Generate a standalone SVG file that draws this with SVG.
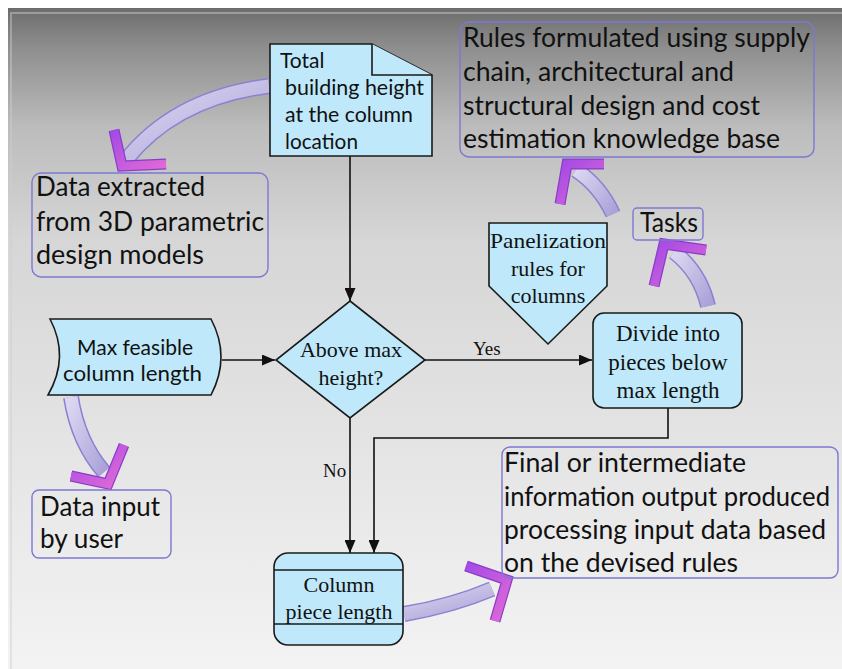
<svg xmlns="http://www.w3.org/2000/svg" width="842" height="669" viewBox="0 0 842 669">
<defs>
<linearGradient id="bg" x1="0" y1="0" x2="0" y2="1">
<stop offset="0" stop-color="#6c6c6c"/>
<stop offset="0.06" stop-color="#8e8e8e"/>
<stop offset="0.18" stop-color="#bcbcbc"/>
<stop offset="0.35" stop-color="#d6d6d6"/>
<stop offset="0.7" stop-color="#e6e6e6"/>
<stop offset="1" stop-color="#f3f3f3"/>
</linearGradient>
<linearGradient id="body" x1="0" y1="0" x2="1" y2="1">
<stop offset="0" stop-color="#dcd8f2"/>
<stop offset="1" stop-color="#aaa2d8"/>
</linearGradient>
<linearGradient id="chev" x1="0" y1="0" x2="1" y2="1">
<stop offset="0" stop-color="#a44ae6"/>
<stop offset="1" stop-color="#e06ad6"/>
</linearGradient>
<marker id="ah" markerUnits="userSpaceOnUse" markerWidth="13" markerHeight="11" refX="13" refY="5.5" orient="auto">
<path d="M0,0 L13,5.5 L0,11 z" fill="#111"/>
</marker>
<style>
.shape{fill:#bfe9fb;stroke:#1a1a1a;stroke-width:1.6}
.note{fill:none;stroke:#7d78d2;stroke-width:1.4}
.conn{fill:none;stroke:#111;stroke-width:1.6}
.sans{font-family:Lato,"Open Sans","Liberation Sans",sans-serif;fill:#111}
.serif{font-family:"Liberation Serif","DejaVu Serif",serif;fill:#111}
.bo{fill:none;stroke:#8a82d0;stroke-width:16}
.bi{fill:none;stroke:url(#body);stroke-width:13}
.co{fill:none;stroke:#8a3cc8;stroke-width:11;stroke-linejoin:miter}
.ci{fill:none;stroke:url(#chev);stroke-width:8.5;stroke-linejoin:miter}
</style>
</defs>
<rect x="0" y="0" width="842" height="669" fill="#ffffff"/>
<rect x="8" y="8" width="834" height="661" fill="url(#bg)"/>
<line x1="12" y1="13" x2="842" y2="13" stroke="#9c9c9c" stroke-width="2"/>
<line x1="11" y1="12" x2="11" y2="669" stroke="#cfcfcf" stroke-width="1.5" opacity="0.6"/>

<g id="connectors">
<path class="conn" d="M350 156 V301" marker-end="url(#ah)"/>
<path class="conn" d="M222 360 H275" marker-end="url(#ah)"/>
<path class="conn" d="M425 360 H592" marker-end="url(#ah)"/>
<path class="conn" d="M350 418 V553" marker-end="url(#ah)"/>
<path class="conn" d="M668 408 V438 H374 V553" marker-end="url(#ah)"/>
<text class="serif" x="473" y="355" font-size="19">Yes</text>
<text class="serif" x="323" y="477" font-size="19">No</text>
</g>

<g id="arrow-doc-data">
<path class="bo" d="M269 86 Q175 98 126 160"/>
<path class="bi" d="M269 86 Q175 98 126 160"/>
<path class="co" d="M114 130 L122 166 L166 164"/>
<path class="ci" d="M114 130 L122 166 L166 164"/>
</g>
<g id="arrow-max-input">
<path class="bo" d="M71 397 Q78 442 104 472"/>
<path class="bi" d="M71 397 Q78 442 104 472"/>
<path class="co" d="M71 476 L108 484 L124 445"/>
<path class="ci" d="M71 476 L108 484 L124 445"/>
</g>
<g id="arrow-rules">
<path class="bo" d="M613 214 Q600 186 576 170"/>
<path class="bi" d="M613 214 Q600 186 576 170"/>
<path class="co" d="M560 204 L567 164 L604 164"/>
<path class="ci" d="M560 204 L567 164 L604 164"/>
</g>
<g id="arrow-tasks">
<path class="bo" d="M708 306 Q700 272 674 252"/>
<path class="bi" d="M708 306 Q700 272 674 252"/>
<path class="co" d="M654 286 L664 244 L706 250"/>
<path class="ci" d="M654 286 L664 244 L706 250"/>
</g>
<g id="arrow-column-final">
<path class="bo" d="M404 614 Q452 606 492 589"/>
<path class="bi" d="M404 614 Q452 606 492 589"/>
<path class="co" d="M466 566 L507 580 L495 621"/>
<path class="ci" d="M466 566 L507 580 L495 621"/>
</g>

<g id="total-height">
<polygon class="shape" points="270,44 372,44 432,75 432,156 270,156"/>
<path class="shape" d="M372 44 V75 H432" fill="none"/>
<g class="sans" font-size="21">
<text x="280" y="68">Total</text>
<text x="285" y="95" textLength="139" lengthAdjust="spacingAndGlyphs">building height</text>
<text x="285" y="122" textLength="128" lengthAdjust="spacingAndGlyphs">at the column</text>
<text x="285" y="149" textLength="73" lengthAdjust="spacingAndGlyphs">location</text>
</g>
</g>

<g id="rules-note">
<rect class="note" x="460" y="22" width="354" height="135" rx="9"/>
<g class="sans" font-size="27">
<text x="463" y="47" textLength="347" lengthAdjust="spacingAndGlyphs">Rules formulated using supply</text>
<text x="463" y="81" textLength="271" lengthAdjust="spacingAndGlyphs">chain, architectural and</text>
<text x="463" y="115" textLength="297" lengthAdjust="spacingAndGlyphs">structural design and cost</text>
<text x="463" y="148" textLength="317" lengthAdjust="spacingAndGlyphs">estimation knowledge base</text>
</g>
</g>

<g id="data-extracted">
<rect class="note" x="32" y="173" width="236" height="104" rx="9"/>
<g class="sans" font-size="27">
<text x="36" y="196" textLength="169" lengthAdjust="spacingAndGlyphs">Data extracted</text>
<text x="36" y="231" textLength="228" lengthAdjust="spacingAndGlyphs">from 3D parametric</text>
<text x="36" y="264" textLength="168" lengthAdjust="spacingAndGlyphs">design models</text>
</g>
</g>

<g id="max-length">
<path class="shape" d="M50 319 L211 319 Q231 357 211 395 L48 395 Q70 357 50 319 Z"/>
<g class="sans" font-size="22">
<text x="77" y="355" textLength="116" lengthAdjust="spacingAndGlyphs">Max feasible</text>
<text x="63" y="381" textLength="139" lengthAdjust="spacingAndGlyphs">column length</text>
</g>
</g>

<g id="data-input">
<rect class="note" x="32" y="490" width="139" height="68" rx="7"/>
<g class="sans" font-size="27">
<text x="40" y="516" textLength="120" lengthAdjust="spacingAndGlyphs">Data input</text>
<text x="40" y="548" textLength="83" lengthAdjust="spacingAndGlyphs">by user</text>
</g>
</g>

<g id="decision">
<polygon class="shape" points="350,301 425,360 350,418 276,360"/>
<g class="serif" font-size="22" text-anchor="middle">
<text x="351" y="357">Above max</text>
<text x="351" y="385">height?</text>
</g>
</g>

<g id="panelization">
<polygon class="shape" points="489,223 607,223 607,286 548,344 489,286"/>
<g class="serif" font-size="22" text-anchor="middle">
<text x="548" y="248" textLength="116" lengthAdjust="spacingAndGlyphs">Panelization</text>
<text x="548" y="276">rules for</text>
<text x="548" y="303">columns</text>
</g>
</g>

<g id="tasks">
<rect class="note" x="633" y="208" width="70" height="32" rx="4"/>
<text class="sans" x="640" y="232" font-size="26" textLength="58" lengthAdjust="spacingAndGlyphs">Tasks</text>
</g>

<g id="divide">
<rect class="shape" x="593" y="313" width="149" height="95" rx="11"/>
<g class="serif" font-size="23" text-anchor="middle">
<text x="668" y="341">Divide into</text>
<text x="668" y="370">pieces below</text>
<text x="668" y="398">max length</text>
</g>
</g>

<g id="column-piece">
<rect class="shape" x="274" y="553" width="129" height="92" rx="14"/>
<line class="shape" x1="274" y1="570" x2="403" y2="570"/>
<line class="shape" x1="274" y1="624" x2="403" y2="624"/>
<g class="serif" font-size="22" text-anchor="middle">
<text x="339" y="592">Column</text>
<text x="339" y="619">piece length</text>
</g>
</g>

<g id="final-output">
<rect class="note" x="502" y="447" width="336" height="131" rx="8"/>
<g class="sans" font-size="26">
<text x="504" y="472" textLength="242" lengthAdjust="spacingAndGlyphs">Final or intermediate</text>
<text x="504" y="506" textLength="326" lengthAdjust="spacingAndGlyphs">information output produced</text>
<text x="504" y="539" textLength="322" lengthAdjust="spacingAndGlyphs">processing input data based</text>
<text x="504" y="572" textLength="234" lengthAdjust="spacingAndGlyphs">on the devised rules</text>
</g>
</g>
</svg>
